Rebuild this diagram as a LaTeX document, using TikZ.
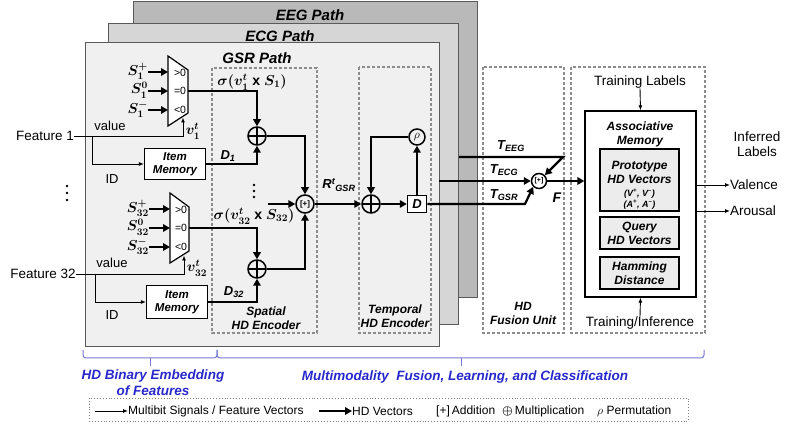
\documentclass[tikz,border=0pt]{standalone}
\usepackage{fontspec}
\setmainfont{Liberation Sans}
\usepackage{amsmath}
\usetikzlibrary{arrows.meta,calc}
\definecolor{eegc}{RGB}{185,185,185}
\definecolor{ecgc}{RGB}{214,214,214}
\definecolor{gsrc}{RGB}{240,240,240}
\definecolor{boxb}{RGB}{90,90,90}
\definecolor{dashc}{RGB}{140,140,140}
\definecolor{bluet}{RGB}{40,40,205}
\definecolor{braceb}{RGB}{120,120,215}
\definecolor{innerg}{RGB}{236,236,236}
\begin{document}
\begin{tikzpicture}[x=1pt,y=-1pt,
  lbl/.style={inner sep=0pt, font=\fontsize{13.5}{15}\selectfont, align=center},
  bi/.style={inner sep=0pt, font=\fontsize{12}{14}\selectfont\bfseries\itshape, align=center},
  ttl/.style={inner sep=0pt, font=\fontsize{15}{16}\selectfont\bfseries\itshape},
  mth/.style={inner sep=0pt, font=\fontsize{14.5}{15}\selectfont\boldmath},
  sml/.style={inner sep=0pt, font=\fontsize{14}{15}\selectfont\boldmath},
  sub/.style={inner sep=0pt, font=\fontsize{13}{14}\selectfont\bfseries\itshape},
  ta/.style={line width=0.9pt, -{Latex[length=5pt,width=4pt]}},
  hd/.style={line width=2.2pt, -{Triangle[length=7pt,width=7.5pt]}},
  mem/.style={draw, line width=1.2pt, fill=white, minimum width=61pt, minimum height=31pt, inner sep=0pt, font=\fontsize{11.5}{13}\selectfont\bfseries\itshape, align=center},
  xo/.style={circle, draw, line width=1.5pt, minimum size=18pt, inner sep=0pt,
    path picture={\draw[line width=1.2pt] (path picture bounding box.north) -- (path picture bounding box.south) (path picture bounding box.west) -- (path picture bounding box.east);}},
  addc/.style={circle, draw, line width=1.5pt, minimum size=18pt, inner sep=0pt, font=\fontsize{8}{8}\selectfont\bfseries},
  dbx/.style={draw=dashc, line width=1.1pt, dash pattern=on 3pt off 2pt},
  muxs/.style={draw, line width=1.2pt, fill=white},
  mx/.style={inner sep=0pt, font=\fontsize{10.5}{10}\selectfont},
  inb/.style={draw, line width=1.2pt, fill=innerg, minimum width=79pt, inner sep=0pt, font=\fontsize{12}{14}\selectfont\bfseries\itshape, align=center},
  leg/.style={inner sep=0pt, font=\fontsize{12}{13}\selectfont, anchor=west},
  bluetxt/.style={inner sep=0pt, text=bluet, font=\fontsize{13.5}{16}\selectfont\bfseries\itshape, align=center},
  brc/.style={draw=braceb, line width=1pt, rounded corners=3pt},
  dotc/.style={fill=black},
]
\useasboundingbox (0,0) rectangle (785,430);
\fill[white] (0,0) rectangle (785,430);

% ---- path boxes
\draw[fill=eegc, draw=boxb, line width=1pt] (133,2) rectangle (477,298);
\node[ttl] (eegt) at (310,15) {EEG Path};
\draw[fill=ecgc, draw=boxb, line width=1pt] (108,24) rectangle (458,325);
\node[ttl] (ecgt) at (280,36) {ECG Path};
\draw[fill=gsrc, draw=boxb, line width=1pt] (85,43) rectangle (439,347);
\node[ttl] (gsrt) at (257,58) {GSR Path};

% ---- dashed boxes
\draw[dbx] (212,68) rectangle (317,333);
\draw[dbx] (359,67) rectangle (431,333);
\draw[dbx] (483,67) rectangle (564,333);
\draw[dbx] (571,67) rectangle (705,333);
\node[bi] (spl) at (266,318) {Spatial\\HD Encoder};
\node[bi] (tpl) at (395,316) {Temporal\\HD Encoder};
\node[bi] (ful) at (523,313) {HD\\Fusion Unit};

% ---- mux 1
\coordinate (m1tl) at (168,56); \coordinate (m1tr) at (188,70);
\coordinate (m1br) at (188,113); \coordinate (m1bl) at (168,126);
\draw[muxs] (m1tl) -- (m1tr) -- (m1br) -- (m1bl) -- cycle;
\node[mx] (m1g) at (180,73) {>0};
\node[mx] (m1e) at (180,91) {=0};
\node[mx] (m1l) at (180,110) {<0};
\coordinate (m1a) at (168,72); \coordinate (m1b) at (168,91); \coordinate (m1c) at (168,110);
\coordinate (m1o) at (188,91); \coordinate (m1v) at (183,117.5);
\node[mth, anchor=east] (s1p) at (148,71) {$\boldsymbol{S_1^{+}}$};
\node[mth, anchor=east] (s1z) at (148,90) {$\boldsymbol{S_1^{0}}$};
\node[mth, anchor=east] (s1m) at (148,109) {$\boldsymbol{S_1^{-}}$};
\draw[hd, line width=2pt] (s1p.east |- m1a) -- (m1a);
\draw[hd, line width=2pt] (s1z.east |- m1b) -- (m1b);
\draw[hd, line width=2pt] (s1m.east |- m1c) -- (m1c);
\node[sml] (v1) at (193,131) {$\boldsymbol{v_1^t}$};

% ---- mux 32
\coordinate (m2tl) at (170,193); \coordinate (m2tr) at (189,207);
\coordinate (m2br) at (189,251); \coordinate (m2bl) at (170,263);
\draw[muxs] (m2tl) -- (m2tr) -- (m2br) -- (m2bl) -- cycle;
\node[mx] (m2g) at (181,210) {>0};
\node[mx] (m2e) at (181,228) {=0};
\node[mx] (m2l) at (181,247) {<0};
\coordinate (m2a) at (170,209); \coordinate (m2b) at (170,228); \coordinate (m2c) at (170,247);
\coordinate (m2o) at (189,228); \coordinate (m2v) at (184,255.5);
\node[mth, anchor=east] (s2p) at (149,208) {$\boldsymbol{S_{32}^{+}}$};
\node[mth, anchor=east] (s2z) at (149,227) {$\boldsymbol{S_{32}^{0}}$};
\node[mth, anchor=east] (s2m) at (149,246) {$\boldsymbol{S_{32}^{-}}$};
\draw[hd, line width=2pt] (s2p.east |- m2a) -- (m2a);
\draw[hd, line width=2pt] (s2z.east |- m2b) -- (m2b);
\draw[hd, line width=2pt] (s2m.east |- m2c) -- (m2c);
\node[sml] (v2) at (197,268) {$\boldsymbol{v_{32}^t}$};

% ---- features
\node[lbl] (f1) at (45,136) {Feature 1};
\node[lbl] (f32) at (43,274) {Feature 32};
\foreach \yy in {186,193,200} \fill[dotc] (67,\yy) circle (1.3pt);
\node[lbl, font=\fontsize{13}{14}\selectfont] (val1) at (110,126) {value};
\node[lbl, font=\fontsize{13}{14}\selectfont] (val2) at (112,263) {value};
\node[lbl, font=\fontsize{13}{14}\selectfont] (id1) at (112,179) {ID};
\node[lbl, font=\fontsize{13}{14}\selectfont] (id2) at (112,315) {ID};
\node[mem] (im1) at (175,164) {Item\\Memory};
\node[mem, minimum height=33pt] (im2) at (177,302) {Item\\Memory};
\draw[ta] (f1.east) -- (f1.east -| m1v) -- (m1v);
\draw[ta] (f32.east) -- (f32.east -| m2v) -- (m2v);
\coordinate (b1) at (92,136);
\coordinate (b2) at (95,274);
\draw[ta] (b1) |- (im1.west);
\draw[ta] (b2) |- (im2.west);

% ---- spatial encoder
\node[xo] (x1) at (257,136) {};
\node[xo] (x2) at (257,269) {};
\node[addc] (sp) at (305,204) {[+]};
\node[sml] (sg1) at (252,82) {$\boldsymbol{\sigma(v_1^t}\ \textbf{x}\ \boldsymbol{S_1)}$};
\node[sml] (sg2) at (254,216) {$\boldsymbol{\sigma(v_{32}^t}\ \textbf{x}\ \boldsymbol{S_{32})}$};
\node[sub] (d1) at (228,156) {D\textsubscript{1}};
\node[sub] (d32) at (234,292) {D\textsubscript{32}};
\foreach \yy in {185,191,197} \fill[dotc] (254,\yy) circle (1.3pt);
\draw[hd] (m1o) -| (x1.north);
\draw[hd] (im1.east) -| (x1.south);
\draw[hd] (m2o) -| (x2.north);
\draw[hd] (im2.east) -| (x2.south);
\draw[hd] (x1.east) -| (sp.north);
\draw[hd] (x2.east) -| (sp.south);
\coordinate (dotin) at (268,204);
\draw[hd] (dotin) -- (sp.west);

% ---- temporal encoder
\node[xo] (tx) at (371,204) {};
\node[draw, line width=1.5pt, fill=white, minimum width=19pt, minimum height=17pt, inner sep=0pt, font=\fontsize{13}{14}\selectfont\bfseries\itshape] (dbox) at (417,204) {D};
\node[circle, draw, line width=1.5pt, minimum size=16pt, inner sep=0pt, font=\fontsize{12}{12}\selectfont\itshape] (rho) at (417,137) {$\rho$};
\node[sub] (rt) at (339,185) {R\textsuperscript{t}\textsubscript{GSR}};
\draw[hd] (sp.east) -- (tx.west);
\draw[hd] (tx.east) -- (dbox.west);
\draw[hd] (dbox.north) -- (rho.south);
\draw[hd] (rho.west) -| (tx.north);

% ---- fusion
\node[addc, minimum size=15pt, font=\fontsize{7}{7}\selectfont\bfseries] (fuse) at (539,181) {[+]};
\coordinate (ecgout) at (439,181);
\coordinate (eegout) at (459,157);
\coordinate (eegk) at (563,157);
\coordinate (gsrk) at (525,204);
\draw[hd] (eegout) -- (eegk) -- (fuse.north east);
\draw[hd] (ecgout) -- (fuse.west);
\draw[hd] (dbox.east) -- (gsrk) -- (fuse.south west);
\node[sub] (teeg) at (511,146) {T\textsubscript{EEG}};
\node[sub] (tecg) at (504,170) {T\textsubscript{ECG}};
\node[sub] (tgsr) at (504,195) {T\textsubscript{GSR}};
\node[sub, font=\fontsize{14}{14}\selectfont\bfseries\itshape] (fl) at (557,198) {F};

% ---- classifier
\node[draw, line width=1.3pt, fill=white, minimum width=111pt, minimum height=186pt, inner sep=0pt] (am) at (640.5,204) {};
\node[bi] (amt) at (640,134) {Associative\\Memory};
\node[inb, minimum height=62pt] (proto) at (639.5,180) {};
\node[bi] (protot) at (639.5,172) {Prototype\\HD Vectors};
\node[inner sep=0pt, font=\fontsize{9}{11}\selectfont\bfseries\itshape, align=center] (protov) at (639.5,199) {(V\textsuperscript{+}, V\textsuperscript{--})\\(A\textsuperscript{+}, A\textsuperscript{--})};
\node[inb, minimum height=32pt] (query) at (639.5,233) {Query\\HD Vectors};
\node[inb, minimum height=32pt] (hamm) at (639.5,273) {Hamming\\Distance};
\node[lbl] (trl) at (640,82) {Training Labels};
\node[lbl] (tri) at (640,323) {Training/Inference};
\draw[ta] (trl.south) -- (am.north);
\draw[ta] (tri.north) -- (am.south);
\draw[hd] (fuse.east) -- (fuse.east -| am.west);
\node[lbl] (inf) at (757,144) {Inferred\\Labels};
\node[lbl, anchor=west] (vale) at (730,185) {Valence};
\node[lbl, anchor=west] (arou) at (730,211) {Arousal};
\draw[ta] (am.east |- vale.west) -- (vale.west);
\draw[ta] (am.east |- arou.west) -- (arou.west);

% ---- braces
\draw[brc] (83,350) -- (83,358) -- (217,358) -- (217,350);
\draw[brc] (217,350) -- (217,358) -- (704,358) -- (704,350);
\draw[draw=braceb, line width=1pt] (150,358) -- (150,366);
\draw[draw=braceb, line width=1pt] (461,358) -- (461,366);
\node[bluetxt] (bl1) at (153,383) {HD Binary Embedding\\of Features};
\node[bluetxt] (bl2) at (465,377) {Multimodality\ \ Fusion, Learning, and Classification};

% ---- legend
\node[draw=gray, dotted, line width=0.9pt, minimum width=599pt, minimum height=23pt, inner sep=0pt] (lg) at (388.5,409.5) {};
\coordinate (la1) at (95,411);
\node[leg] (lt1) at (128,411) {Multibit Signals / Feature Vectors};
\draw[ta] (la1) -- (lt1.west);
\coordinate (la2) at (319,411);
\node[leg] (lt2) at (352,411) {HD Vectors};
\draw[hd] (la2) -- (lt2.west);
\node[leg] (lt3) at (436,411) {[+]\,Addition};
\node[leg] (lt4) at (502,411) {$\boldsymbol{\oplus}$\,Multiplication};
\node[leg] (lt5) at (597,411) {$\rho$\ Permutation};
\end{tikzpicture}
\end{document}
